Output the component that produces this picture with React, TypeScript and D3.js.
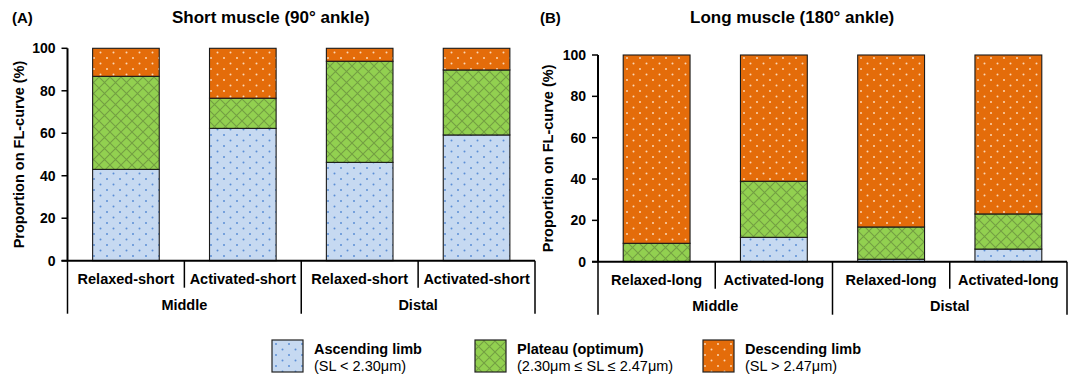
import React from "react";
import * as d3 from "d3";

// bar labels and grouping
const categoriesA = ["Relaxed-short", "Activated-short", "Relaxed-short", "Activated-short"];
const categoriesB = ["Relaxed-long", "Activated-long", "Relaxed-long", "Activated-long"];
const groups = ["Middle", "Distal"];
const yTicks = [0, 20, 40, 60, 80, 100];

// proportions (%)
const ascendingA = [43.0, 62.3, 46.3, 59.2];
const plateauA = [43.8, 14.2, 47.6, 30.6];
const descendingA = [13.2, 23.5, 6.1, 10.2];

const ascendingB = [0, 11.8, 1.2, 6.1];
const plateauB = [8.9, 27.1, 15.6, 17.0];
const descendingB = [91.1, 61.1, 83.2, 76.9];

const seriesKeys = ["ascending", "plateau", "descending"];
const legendTitles = ["Ascending limb", "Plateau (optimum)", "Descending limb"];
const legendSubs = ["(SL < 2.30\u03bcm)", "(2.30\u03bcm \u2264 SL \u2264 2.47\u03bcm)", "(SL > 2.47\u03bcm)"];

const FONT = "'Liberation Sans', Arial, sans-serif";
const fills = { ascending: "url(#pat-asc)", plateau: "url(#pat-plat)", descending: "url(#pat-desc)" };

function Panel({ cats, asc, plat, desc, left, right, top, bottom, tag, tagX, title, titleX, labelX }) {
  const rows = cats.map((c, i) => ({ i, ascending: asc[i], plateau: plat[i], descending: desc[i] }));
  const stacked = d3.stack().keys(seriesKeys)(rows);

  const x = d3.scaleBand().domain(d3.range(cats.length)).range([left, right]);
  const y = d3.scaleLinear().domain([0, 100]).range([bottom, top]);
  const bw = x.bandwidth() * 0.57;
  const bx = (i) => x(i) + (x.bandwidth() - bw) / 2;

  const groupEdges = [left, x(2), right];
  return (
    <g>
      <text x={tagX} y={23} fontSize={15} fontWeight="bold">{tag}</text>
      <text x={titleX} y={23} fontSize={17} fontWeight="bold">{title}</text>

      {stacked.map((s) => (
        <g key={s.key}>
          {s.map((d, i) =>
            d[1] - d[0] > 0 ? (
              <rect key={i} x={bx(i)} y={y(d[1])} width={bw} height={y(d[0]) - y(d[1])}
                fill={fills[s.key]} stroke="#1a1a1a" strokeWidth={1.1} />
            ) : null
          )}
        </g>
      ))}

      {/* y axis */}
      <line x1={left} x2={left} y1={top} y2={bottom} stroke="#000" strokeWidth={2} />
      {yTicks.map((t) => (
        <g key={t}>
          <line x1={left - 6} x2={left} y1={y(t)} y2={y(t)} stroke="#000" strokeWidth={1.5} />
          <text x={left - 12} y={y(t) + 5} fontSize={14} fontWeight="bold" textAnchor="end">{t}</text>
        </g>
      ))}
      <text transform={`translate(${labelX},${(top + bottom) / 2}) rotate(-90)`} fontSize={14.5}
        fontWeight="bold" textAnchor="middle">Proportion on FL-curve (%)</text>

      {/* category axis */}
      <line x1={left - 6} x2={right} y1={bottom} y2={bottom} stroke="#000" strokeWidth={2} />
      {cats.map((c, i) => (
        <g key={i}>
          {i % 2 === 1 && (
            <line x1={x(i)} x2={x(i)} y1={bottom} y2={bottom + 27} stroke="#000" strokeWidth={1.5} />
          )}
          <text x={x(i) + x.bandwidth() / 2} y={bottom + 23} fontSize={14.5} fontWeight="bold"
            textAnchor="middle">{c}</text>
        </g>
      ))}
      {groupEdges.map((e, k) => (
        <line key={k} x1={e} x2={e} y1={bottom} y2={bottom + 53} stroke="#000" strokeWidth={1.5} />
      ))}
      {groups.map((g, k) => (
        <text key={g} x={(groupEdges[k] + groupEdges[k + 1]) / 2} y={bottom + 49} fontSize={14.5}
          fontWeight="bold" textAnchor="middle">{g}</text>
      ))}
    </g>
  );
}

export default function App() {
  const legendX = [272, 475, 703];
  return (
    <div style={{ position: "absolute", left: 0, top: 0 }}>
      <svg width={1074} height={378} fontFamily={FONT} style={{ display: "block", background: "#fff" }}>
        <defs>
          <pattern id="pat-asc" patternUnits="userSpaceOnUse" width={13} height={11}>
            <rect width={13} height={11} fill="#c6d9f1" />
            <circle cx={3} cy={3} r={1} fill="#5b8ed6" />
            <circle cx={9.5} cy={8.5} r={1} fill="#5b8ed6" />
          </pattern>
          <pattern id="pat-plat" patternUnits="userSpaceOnUse" width={11} height={11}>
            <rect width={11} height={11} fill="#92d050" />
            <path d="M0,0L11,11M11,0L0,11M-1,10L1,12M10,-1L12,1" stroke="#739f42" strokeWidth={1.1} />
          </pattern>
          <pattern id="pat-desc" patternUnits="userSpaceOnUse" width={13} height={11}>
            <rect width={13} height={11} fill="#e46c0a" />
            <circle cx={3} cy={3} r={1} fill="#fbd7b5" />
            <circle cx={9.5} cy={8.5} r={1} fill="#fbd7b5" />
          </pattern>
        </defs>

        <Panel cats={categoriesA} asc={ascendingA} plat={plateauA} desc={descendingA}
          left={67.5} right={535} top={48.3} bottom={260.7} tag="(A)" tagX={12}
          title="Short muscle (90° ankle)" titleX={172} labelX={24} />
        <Panel cats={categoriesB} asc={ascendingB} plat={plateauB} desc={descendingB}
          left={598} right={1067} top={55} bottom={261.7} tag="(B)" tagX={540}
          title="Long muscle (180° ankle)" titleX={690} labelX={553} />

        {seriesKeys.map((k, i) => (
          <g key={k}>
            <rect x={legendX[i]} y={340} width={31} height={32} fill={fills[k]} stroke="#222" strokeWidth={1.2} />
            <text x={legendX[i] + 42} y={354} fontSize={14.5} fontWeight="bold">{legendTitles[i]}</text>
            <text x={legendX[i] + 42} y={371} fontSize={14.5}>{legendSubs[i]}</text>
          </g>
        ))}
      </svg>
    </div>
  );
}
